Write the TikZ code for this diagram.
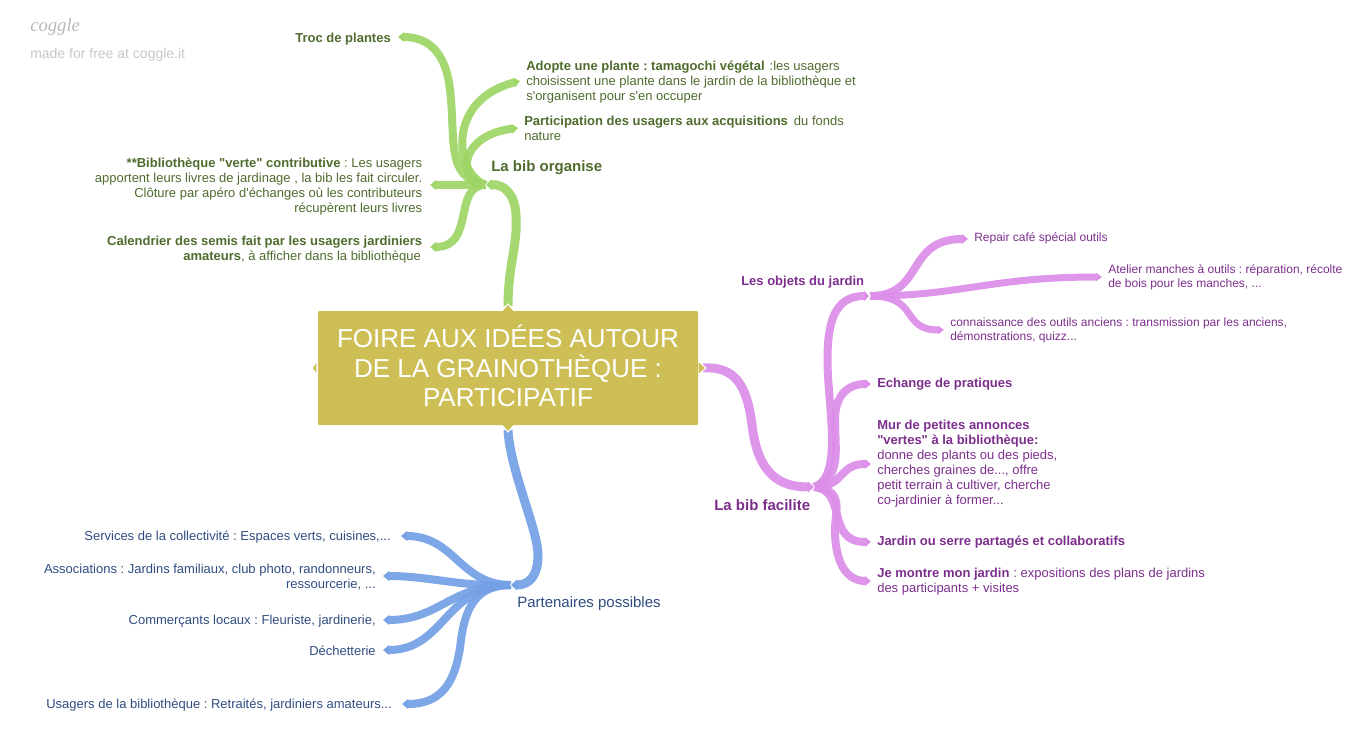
\documentclass[tikz,border=0pt]{standalone}
\usepackage{fontspec}
\setmainfont[Ligatures=TeXOff]{Liberation Sans}
\frenchspacing
\usetikzlibrary{arrows.meta}
\definecolor{gbr}{HTML}{9ED566}
\definecolor{pbr}{HTML}{DC8EE8}
\definecolor{bbr}{HTML}{74A0E6}
\definecolor{gtx}{HTML}{4F6B2E}
\definecolor{ptx}{HTML}{7C2E8C}
\definecolor{btx}{HTML}{2F4C80}
\definecolor{gold}{HTML}{CDBF55}
\newcommand{\chev}[2]{\draw[white,line width=1.1pt,line join=miter] ([shift={(#2,-7)}]#1) -- (#1) -- ([shift={(#2,7)}]#1);}
\tikzset{
  x=0.75pt,y=-0.75pt,
  branch/.style={line width=#1*0.75pt,draw opacity=.93,line cap=butt,-{Triangle[length=4.5pt,width=0pt 1.2]}},
  branch/.default=8,
  gb/.style={branch=#1,draw=gbr},
  pb/.style={branch=#1,draw=pbr},
  bb/.style={branch=#1,draw=bbr},
  leaf/.style={inner sep=0pt,yshift=-1.5pt,font=\fontsize{9.75}{11.25}\selectfont},
  leafb/.style={inner sep=0pt,yshift=-1.5pt,font=\fontsize{9.75}{11.25}\selectfont\bfseries},
  small/.style={inner sep=0pt,yshift=-.75pt,font=\fontsize{9}{10.5}\selectfont},
  big/.style={inner sep=0pt,yshift=-1.5pt,font=\fontsize{11.25}{13}\selectfont},
  bigb/.style={inner sep=0pt,yshift=-1.5pt,font=\fontsize{11.25}{13}\selectfont\bfseries},
  bump/.style={fill=gold,draw=white,line width=.8pt,line join=miter},
}
\begin{document}
\begin{tikzpicture}
\useasboundingbox (0,0) rectangle (1370,745);
% hubs and leaf ends
\coordinate (hg) at (486,185);
\coordinate (hp) at (814,487);
\coordinate (hb) at (511,585);
\coordinate (ho) at (870,296);
\coordinate (rt) at (508,306);
\coordinate (rr) at (703,368);
\coordinate (rb) at (508,430);
\coordinate (lTroc) at (398,37);
\coordinate (lAd) at (520,81);
\coordinate (lPa) at (518,128);
\coordinate (lBi) at (430,185);
\coordinate (lCa) at (430,247);
\coordinate (lRe) at (968,239);
\coordinate (lAt) at (1102,277);
\coordinate (lCo) at (944,330);
\coordinate (lEc) at (871,384);
\coordinate (lMu) at (871,464);
\coordinate (lJa) at (871,542);
\coordinate (lJe) at (871,581);
\coordinate (lSe) at (401,536);
\coordinate (lAs) at (383,576);
\coordinate (lCm) at (383,620);
\coordinate (lDe) at (383,650);
\coordinate (lUs) at (402,704);
% green
\draw[gb=8] (hg) .. controls (445,178) and (456,140) .. (450,90) .. controls (446,52) and (428,37) .. (lTroc);
\draw[gb=8] (hg) .. controls (455,175) and (445,100) .. (lAd);
\draw[gb=8] (hg) .. controls (455,180) and (460,135) .. (lPa);
\draw[gb=8] (hg) -- (lBi);
\draw[gb=8] (hg) .. controls (452,185) and (476,247) .. (lCa);
\chev{hg}{6}
\draw[gb=9] (rt) .. controls (508,265) and (518,245) .. (516,215) .. controls (515,195) and (505,184) .. (hg);
% purple
\draw[pb=8] (hp) .. controls (838,480) and (832,430) .. (829,390) .. controls (823,320) and (835,296) .. (ho);
\draw[pb=8] (hp) .. controls (842,478) and (835,450) .. (835,420) .. controls (835,395) and (848,384) .. (lEc);
\draw[pb=8] (hp) .. controls (845,487) and (838,464) .. (lMu);
\draw[pb=8] (hp) .. controls (848,490) and (825,542) .. (lJa);
\draw[pb=8] (hp) .. controls (845,490) and (835,510) .. (835,530) .. controls (835,565) and (848,581) .. (lJe);
\draw[pb=8] (ho) .. controls (925,296) and (905,239) .. (lRe);
\draw[pb=7] (ho) .. controls (960,296) and (990,277) .. (lAt);
\draw[pb=7] (ho) .. controls (920,296) and (900,330) .. (lCo);
\chev{ho}{-6}
\chev{hp}{-6}
\draw[pb=9] (rr) .. controls (735,366) and (747,385) .. (752,425) .. controls (758,475) and (780,487) .. (hp);
% blue
\draw[bb=8] (hb) .. controls (460,585) and (455,536) .. (lSe);
\draw[bb=8] (hb) .. controls (460,587) and (430,576) .. (lAs);
\draw[bb=8] (hb) .. controls (450,585) and (440,620) .. (lCm);
\draw[bb=8] (hb) .. controls (445,585) and (445,650) .. (lDe);
\draw[bb=8] (hb) .. controls (475,585) and (465,610) .. (461,640) .. controls (456,685) and (440,704) .. (lUs);
\chev{hb}{6}
\draw[bb=9] (rb) .. controls (510,470) and (538,530) .. (538,555) .. controls (538,575) and (530,585) .. (hb);
% root
\draw[bump] (501,312) -- (508,304) -- (515,312) -- cycle;
\draw[bump] (317,361) -- (312,368) -- (317,375) -- cycle;
\draw[bump] (698,361) -- (706,368) -- (698,375) -- cycle;
\draw[bump] (501,424) -- (508,432) -- (515,424) -- cycle;
\node[fill=gold,rounded corners=.8pt,minimum width=285pt,minimum height=85.5pt,inner sep=0pt,align=center,text=white,font=\fontsize{19.5}{22}\selectfont] (root) at (508,368) {FOIRE AUX IDÉES AUTOUR\\DE LA GRAINOTHÈQUE :\\PARTICIPATIF\rule[-3pt]{0pt}{0pt}};
% texts
\node[leafb,text=gtx,anchor=east] (tTroc) at (391,37) {Troc de plantes};
\node[leaf,text=gtx,anchor=west,align=left] (tAd) at (526,80) {\textbf{Adopte une plante : tamagochi végétal}\hspace{3.75pt}:les usagers\\choisissent une plante dans le jardin de la bibliothèque et\\s'organisent pour s'en occuper};
\node[leaf,text=gtx,anchor=west,align=left] (tPa) at (524,126) {\textbf{Participation des usagers aux acquisitions}\hspace{4.5pt}du fonds\\nature};
\node[bigb,text=gtx,anchor=west] (tOr) at (491,166) {La bib organise};
\node[leaf,text=gtx,anchor=east,align=right] (tBi) at (422.5,185) {\textbf{**Bibliothèque "verte" contributive} : Les usagers\\apportent leurs livres de jardinage , la bib les fait circuler.\\Clôture par apéro d'échanges où les contributeurs\\récupèrent leurs livres};
\node[leaf,text=gtx,anchor=east,align=right] (tCa) at (422.5,248) {\textbf{Calendrier des semis fait par les usagers jardiniers}\\\textbf{amateurs}, à afficher dans la bibliothèque\hspace*{1pt}};
\node[leafb,text=ptx,anchor=west] (tOb) at (741,280) {Les objets du jardin};
\node[small,text=ptx,anchor=west] (tRe) at (974,237) {Repair café spécial outils};
\node[small,text=ptx,anchor=west,align=left] (tAt) at (1108,276) {Atelier manches à outils : réparation, récolte\\de bois pour les manches, ...};
\node[small,text=ptx,anchor=west,align=left] (tCo) at (950,329) {connaissance des outils anciens : transmission par les anciens,\\démonstrations, quizz...};
\node[leafb,text=ptx,anchor=west] (tEc) at (877,382) {Echange de pratiques};
\node[leaf,text=ptx,anchor=west,align=left] (tMu) at (877,462) {\textbf{Mur de petites annonces}\\\textbf{"vertes" à la bibliothèque:}\\donne des plants ou des pieds,\\cherches graines de..., offre\\petit terrain à cultiver, cherche\\co-jardinier à former...};
\node[leafb,text=ptx,anchor=west] (tJa) at (877,540) {Jardin ou serre partagés et collaboratifs};
\node[leaf,text=ptx,anchor=west,align=left] (tJe) at (877,580) {\textbf{Je montre mon jardin}\hspace{3pt}: expositions des plans de jardins\\des participants + visites};
\node[bigb,text=ptx,anchor=west] (tFa) at (714,503) {La bib facilite};
\node[leaf,text=btx,anchor=east] (tSe) at (391,535) {Services de la collectivité : Espaces verts, cuisines,...};
\node[leaf,text=btx,anchor=east,align=right] (tAs) at (376,575) {Associations : Jardins familiaux, club photo, randonneurs,\\ressourcerie, ...};
\node[leaf,text=btx,anchor=east] (tCm) at (376,619) {Commerçants locaux : Fleuriste, jardinerie,};
\node[leaf,text=btx,anchor=east] (tDe) at (376,649) {Déchetterie};
\node[leaf,text=btx,anchor=east] (tUs) at (392,703) {Usagers de la bibliothèque : Retraités, jardiniers amateurs...};
\node[big,text=btx,anchor=west] (tPp) at (517,602) {Partenaires possibles};
% logo
\node[inner sep=0pt,anchor=west,text=black!28,font=\fontsize{14}{16}\selectfont] (logo) at (30,27) {\fontspec{Liberation Serif}\itshape coggle};
\node[inner sep=0pt,anchor=west,text=black!22,yshift=-1.5pt,font=\fontsize{10.5}{12}\selectfont] (made) at (30,53) {made for free at coggle.it};
\end{tikzpicture}
\end{document}
